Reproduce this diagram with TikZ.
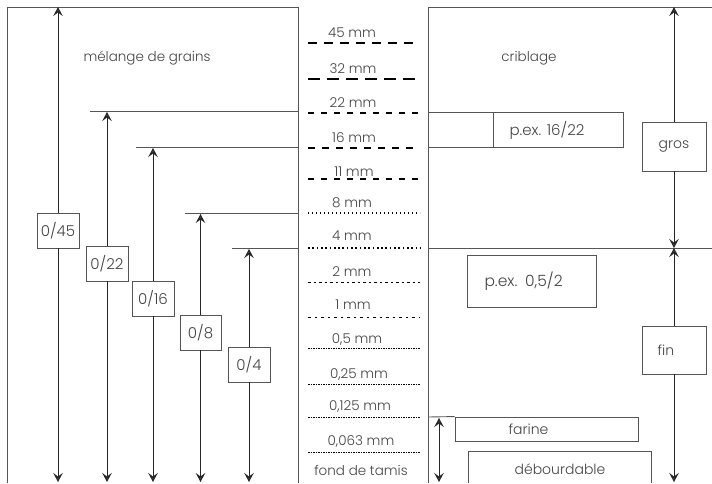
\documentclass[tikz,border=0pt]{standalone}
\usepackage{fontspec}
\setmainfont{Poppins}[UprightFont=* Light]
\usetikzlibrary{arrows.meta}
\definecolor{txt}{HTML}{444444}
\definecolor{ln}{HTML}{555555}
\tikzset{
  tipa/.tip={Stealth[open,length=9pt,width=9.5pt,inset=3.5pt,line width=1.6pt]},
  frame/.style={draw=ln, line width=0.9pt},
  arr/.style={draw=black!85, line width=0.9pt, -tipa},
  lbl/.style={font=\fontsize{13.5}{15}\selectfont, text=txt, anchor=base, inner sep=0pt},
  ttl/.style={font=\fontsize{13.5}{15}\selectfont, text=txt, inner sep=0pt},
  fbox/.style={draw=ln, line width=0.9pt, fill=white, font=\fontsize{15}{17}\selectfont, text=txt, inner sep=0pt},
  sieve/.style={line width=1pt, draw=black},
}
\begin{document}
\begin{tikzpicture}[x=1pt,y=-1pt]
\useasboundingbox (0,0) rectangle (712,483);
% frames
\draw[frame] (7,483) -- (7,7) -- (298,7) -- (298,483);
\draw[frame] (428,483) -- (428,7) -- (712,7);
% titles
\node[ttl] (melange) at (147,58) {mélange de grains};
\node[ttl] (criblage) at (529,58) {criblage};
% left horizontal limits
\coordinate (h22a) at (90,111);  \coordinate (h22b) at (298,111);
\coordinate (h16a) at (136,147); \coordinate (h16b) at (298,147);
\coordinate (h8a) at (185,213);  \coordinate (h8b) at (298,213);
\coordinate (h4a) at (232,248);  \coordinate (h4b) at (298,248);
\draw[frame] (h22a) -- (h22b);
\draw[frame] (h16a) -- (h16b);
\draw[frame] (h8a) -- (h8b);
\draw[frame] (h4a) -- (h4b);
% fraction boxes
\node[fbox, minimum width=42pt, minimum height=35pt] (b45) at (58,230.5) {0/45};
\node[fbox, minimum width=42pt, minimum height=35pt] (b22) at (107,263.5) {0/22};
\node[fbox, minimum width=42pt, minimum height=35pt] (b16) at (153,298.5) {0/16};
\node[fbox, minimum width=41pt, minimum height=35pt] (b8) at (200.5,332.5) {0/8};
\node[fbox, minimum width=42pt, minimum height=35pt] (b4) at (249,364.5) {0/4};
\coordinate (t45) at (58,7);    \coordinate (e45) at (58,482);
\coordinate (t22) at (107,112); \coordinate (e22) at (107,482);
\coordinate (t16) at (153,148); \coordinate (e16) at (153,482);
\coordinate (t8) at (200.5,214);\coordinate (e8) at (200.5,482);
\coordinate (t4) at (249,249);  \coordinate (e4) at (249,482);
\foreach \b in {45,22,16,8,4}{
  \draw[arr] (b\b) -- (t\b);
  \draw[arr] (b\b) -- (e\b);
}
% sieve lines
\draw[sieve, line width=2.8pt, dash pattern=on 9pt off 7pt] (308,43) -- (420,43);
\draw[sieve, line width=1.3pt, dash pattern=on 12pt off 7pt] (308,79) -- (420,79);
\draw[sieve, line width=2.5pt, dash pattern=on 6pt off 7pt] (308,113) -- (420,113);
\draw[sieve, line width=1.3pt, dash pattern=on 7pt off 7pt] (308,148) -- (420,148);
\draw[sieve, line width=2pt, dash pattern=on 6pt off 7pt] (308,179) -- (420,179);
\draw[sieve, line width=1.4pt, dash pattern=on 1.4pt off 2.6pt] (308,213) -- (420,213);
\draw[sieve, line width=1.7pt, dash pattern=on 1.7pt off 2.6pt] (308,248) -- (420,248);
\draw[sieve, line width=1pt, dash pattern=on 2.5pt off 3pt] (308,282) -- (420,282);
\draw[sieve, line width=1pt, dash pattern=on 2.5pt off 4pt] (308,317) -- (420,317);
\foreach \yy in {348,384,417,452}{
  \draw[sieve, line width=0.9pt, dash pattern=on 1.5pt off 1pt] (308,\yy) -- (420,\yy);
}
% sieve labels
\node[lbl] (l45) at (352,37) {45 mm};
\node[lbl] (l32) at (353,73) {32 mm};
\node[lbl] (l22) at (353,107) {22 mm};
\node[lbl] (l16) at (354,142) {16 mm};
\node[lbl] (l11) at (354,176) {11 mm};
\node[lbl] (l8) at (352,207) {8 mm};
\node[lbl] (l4) at (352,240) {4 mm};
\node[lbl] (l2) at (352,276) {2 mm};
\node[lbl] (l1) at (353,309) {1 mm};
\node[lbl] (l05) at (357,343) {0,5 mm};
\node[lbl] (l025) at (359,378) {0,25 mm};
\node[lbl] (l0125) at (360,410) {0,125 mm};
\node[lbl] (l0063) at (361,445) {0,063 mm};
\node[lbl] (lfond) at (361,475) {fond de tamis};
% right side
\draw[frame] (428,112) rectangle (623,147);
\draw[frame] (493,112) -- (493,147);
\node[ttl, font=\fontsize{15}{17}\selectfont] (pex1) at (547,130) {p.ex. 16/22};
\draw[frame] (428,248) -- (712,248);
\node[fbox, font=\fontsize{15.5}{17}\selectfont, minimum width=129pt, minimum height=52pt, text width=110pt, align=left] (pex2) at (531.5,281) {\hspace*{8pt}p.ex. 0,5/2};
\node[fbox, font=\fontsize{14}{16}\selectfont, minimum width=64pt, minimum height=49pt] (gros) at (674,146.5) {gros};
\node[fbox, font=\fontsize{14}{16}\selectfont, minimum width=64pt, minimum height=48pt] (fin) at (674,350) {fin\hspace*{16pt}};
\coordinate (gt) at (674,7);
\coordinate (gm) at (674,248);
\coordinate (fb) at (674,482);
\draw[arr] (gros) -- (gt);
\draw[arr] (gros) -- (gm);
\draw[arr] (fin) -- (gm);
\draw[arr] (fin) -- (fb);
% farine
\coordinate (fa0) at (428,417);
\node[fbox, font=\fontsize{14}{16}\selectfont, minimum width=183pt, minimum height=24pt] (farine) at (546.5,429) {farine\hspace*{36pt}};
\draw[frame] (fa0) -- (farine.north west);
\coordinate (ft) at (439,418);
\coordinate (fe) at (439,482);
\draw[arr, tipa-tipa] (ft) -- (fe);
% debourdable
\draw[frame] (468,483) -- (468,451) -- (651,451) -- (651,483);
\node[ttl, font=\fontsize{14}{16}\selectfont] (debo) at (560,469) {débourdable};
\end{tikzpicture}
\end{document}
